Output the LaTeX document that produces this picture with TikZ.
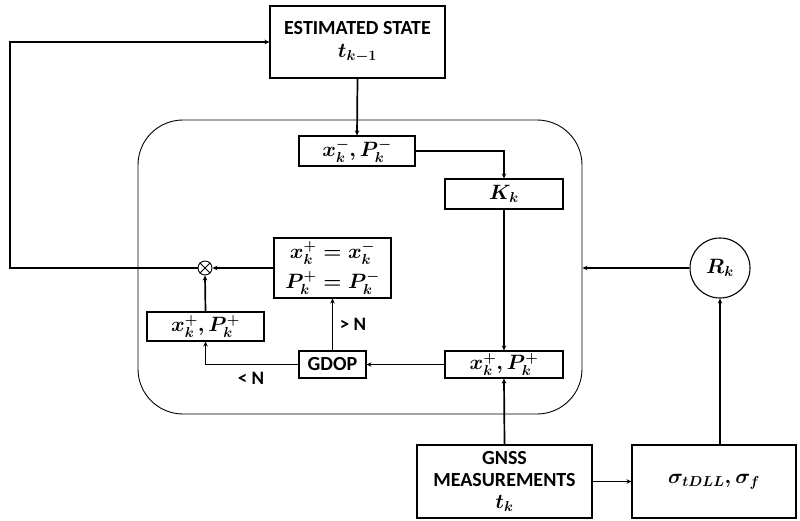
\documentclass[tikz,border=0pt]{standalone}
\usepackage{fontspec}
\setmainfont{Carlito}
\usetikzlibrary{arrows.meta}
\begin{document}
\begin{tikzpicture}[x=1pt,y=-1pt,
  blk/.style={draw, line width=1.1pt, inner sep=0pt, font=\fontsize{20}{22}\selectfont\bfseries\boldmath, align=center},
  conn/.style={line width=1.7pt, -{Stealth[length=5pt,width=4.5pt]}},
  lbl/.style={font=\fontsize{19}{21}\selectfont\bfseries}]
\useasboundingbox (0,0) rectangle (800,521);
\node[draw, line width=0.9pt, rounded corners=45pt, minimum width=444pt, minimum height=294pt, inner sep=0pt] (cont) at (360,267) {};
\node[blk, minimum width=175pt, minimum height=72pt] (est) at (357.5,42) {ESTIMATED STATE\\[1pt] $t_{k-1}$};
\node[blk, minimum width=116pt, minimum height=30pt] (xm) at (357,151) {$x_k^-,P_k^-$};
\node[blk, minimum width=118pt, minimum height=30pt] (K) at (504,194) {$K_k$};
\node[blk, minimum width=117pt, minimum height=60pt] (eq) at (332.5,268) {$x_k^+=x_k^-$\\[6pt]$P_k^+=P_k^-$};
\node[blk, minimum width=117pt, minimum height=29pt] (xpl) at (205.5,326.5) {$x_k^+,P_k^+$};
\node[blk, minimum width=67pt, minimum height=27pt] (gdop) at (332.5,364.5) {GDOP};
\node[blk, minimum width=118pt, minimum height=27pt] (xpr) at (504,364.5) {$x_k^+,P_k^+$};
\node[blk, minimum width=175pt, minimum height=73pt] (gnss) at (504.5,481.5) {GNSS\\MEASUREMENTS\\$t_k$};
\node[blk, minimum width=164pt, minimum height=73pt] (sig) at (714,481.5) {$\sigma_{tDLL},\sigma_f$};
\node[blk, circle, minimum size=60pt] (Rk) at (720,268) {$R_k$};
\node[draw, circle, line width=0.9pt, minimum size=14pt, inner sep=0pt] (ot) at (205,268) {};
\draw[line width=0.9pt] (ot.north east) -- (ot.south west) (ot.north west) -- (ot.south east);
\node[lbl] (gt) at (353,324) {> N};
\node[lbl] (lt) at (251,378) {< N};
\coordinate (lft) at (10,268);
\draw[conn] (est.south) -- (xm.north);
\draw[conn] (xm.east) -| (K.north);
\draw[conn] (K.south) -- (xpr.north);
\draw[conn] (xpr.west) -- (gdop.east);
\draw[conn] (gdop.west) -| (xpl.south);
\draw[conn] (gdop.north) -- (eq.south);
\draw[conn] (xpl.north) -- (ot.south);
\draw[conn] (eq.west) -- (ot.east);
\draw[conn] (ot.west) -- (lft) |- (est.west);
\draw[conn] (gnss.north) -- (xpr.south);
\draw[conn] (gnss.east) -- (sig.west);
\draw[conn] (Rk.south |- sig.north) -- (Rk.south);
\draw[conn] (Rk.west) -- (Rk.west -| cont.east);
\end{tikzpicture}
\end{document}
